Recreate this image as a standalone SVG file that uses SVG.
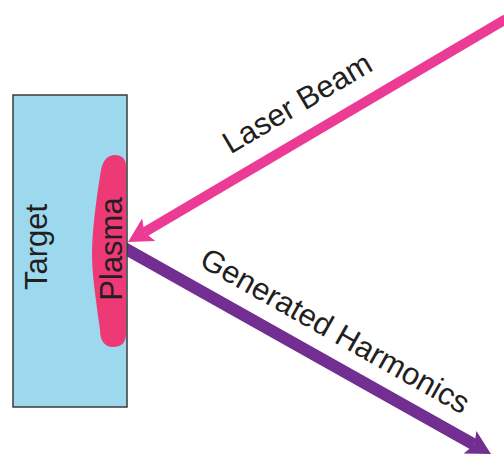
<svg xmlns="http://www.w3.org/2000/svg" width="504" height="454" viewBox="0 0 504 454">
<style>
.lbl{font-family:"Liberation Sans",Arial,sans-serif;font-size:31px;fill:#231f20;text-anchor:middle}
.beam{fill:none;stroke-linecap:butt}
</style>
<defs>
<marker id="headPink" markerUnits="userSpaceOnUse" orient="auto" markerWidth="30" markerHeight="30" refX="5" refY="0" viewBox="-2 -15 30 30" overflow="visible">
<path d="M24,0 L0,-13 L5,0 L0,13 Z" fill="#ec3b95"/>
</marker>
<marker id="headPurple" markerUnits="userSpaceOnUse" orient="auto" markerWidth="30" markerHeight="30" refX="5" refY="0" viewBox="-2 -15 30 30" overflow="visible">
<path d="M24,0 L0,-13 L5,0 L0,13 Z" fill="#722f91"/>
</marker>
</defs>
<rect width="504" height="454" fill="#ffffff"/>
<g id="connectors">
<line id="laser" class="beam" x1="506" y1="19" x2="144.4" y2="232.3" stroke="#ec3b95" stroke-width="10" marker-end="url(#headPink)"/>
<line id="harmonics" class="beam" x1="118" y1="244.4" x2="474.4" y2="444.7" stroke="#722f91" stroke-width="12" marker-end="url(#headPurple)"/>
<text class="lbl" transform="translate(302.5,112) rotate(-30.5)">Laser Beam</text>
<text class="lbl" transform="translate(330,340) rotate(29.5)">Generated Harmonics</text>
</g>
<g id="target">
<rect x="13" y="95" width="114" height="312" fill="#9cd9ee" stroke="#3a3a3a" stroke-width="1.5"/>
<text class="lbl" transform="translate(47,247) rotate(-90)">Target</text>
</g>
<g id="plasma">
<path d="M126,166 L126,334 C126,343 121,347 113,347 C105,347 100,341 100,330 C96,300 92,275 92,255 C92,232 96,200 101,170 C103,160 108,155 115,155 C122,155 126,159 126,166 Z" fill="#ed3a76"/>
<text class="lbl" transform="translate(122,249) rotate(-90)">Plasma</text>
</g>
</svg>
